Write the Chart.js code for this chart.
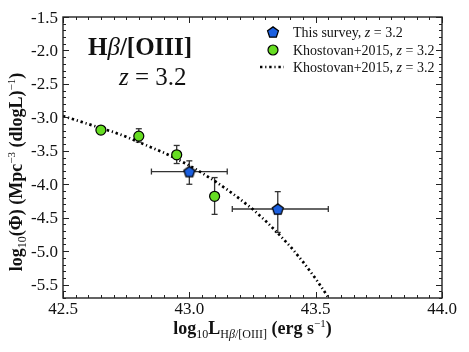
<!DOCTYPE html>
<html>
<head>
<meta charset="utf-8">
<script src="https://cdn.jsdelivr.net/npm/chart.js@4/dist/chart.umd.min.js"></script>
<style>
  html, body { margin: 0; padding: 0; background: #fff; }
  #wrap { width: 469px; height: 352px; }
</style>
</head>
<body>
<div id="wrap"><canvas id="lf"></canvas></div>
<script>
// This survey, z = 3.2
const surveyL = [43.0, 43.35];
const surveyPhi = [-3.81, -4.37];
const surveyLErrLo = [0.15, 0.18];
const surveyLErrHi = [0.15, 0.2];
const surveyPhiErrUp = [0.16, 0.26];
const surveyPhiErrDown = [0.19, 0.35];

// Khostovan+2015 points
const khostL = [42.65, 42.8, 42.95, 43.1];
const khostPhi = [-3.19, -3.28, -3.56, -4.18];
const khostPhiErrUp = [0.05, 0.11, 0.14, 0.28];
const khostPhiErrDown = [0.05, 0.09, 0.13, 0.27];

// Khostovan+2015 fit (dash-dot curve)
const fitL = [42.5, 42.55, 42.6, 42.65, 42.7, 42.75, 42.8, 42.85, 42.9, 42.95, 43.0,
  43.05, 43.1, 43.15, 43.2, 43.25, 43.3, 43.35, 43.4, 43.45, 43.5, 43.55];
const fitPhi = [-2.98, -3.04, -3.10, -3.16, -3.22, -3.29, -3.37, -3.45, -3.53, -3.62, -3.72,
  -3.83, -3.95, -4.08, -4.22, -4.37, -4.54, -4.73, -4.93, -5.16, -5.41, -5.69];

const xTicks = [42.5, 43.0, 43.5, 44.0];
const yTicks = [-1.5, -2.0, -2.5, -3.0, -3.5, -4.0, -4.5, -5.0, -5.5];

const seriesLabels = ["This survey, ", "Khostovan+2015, ", "Khostovan+2015, "];

const BLUE = "#1a5fe0";
const GREEN = "#66dd22";
const SERIF = "'Liberation Serif', 'DejaVu Serif', serif";
const DASH = [2.4, 2.8, 1.2, 2.8];

function pentagon(size, fill) {
  const c = document.createElement("canvas");
  c.width = c.height = size;
  const g = c.getContext("2d");
  const r = size / 2 - 1.3;
  g.beginPath();
  for (let i = 0; i < 5; i++) {
    const a = -Math.PI / 2 + (i * 2 * Math.PI) / 5;
    const px = size / 2 + r * Math.cos(a);
    const py = size / 2 + 0.6 + r * Math.sin(a);
    if (i === 0) g.moveTo(px, py);
    else g.lineTo(px, py);
  }
  g.closePath();
  g.fillStyle = fill;
  g.fill();
  g.lineWidth = 1.3;
  g.strokeStyle = "#000";
  g.stroke();
  return c;
}
const pentaImg = pentagon(14, BLUE);

// draws a run of [text, font, dy] pieces
function drawRich(ctx, parts, x, y, center) {
  let w = 0;
  parts.forEach((p) => {
    ctx.font = p[1];
    w += ctx.measureText(p[0]).width;
  });
  let cx = center ? x - w / 2 : x;
  parts.forEach((p) => {
    ctx.font = p[1];
    ctx.fillText(p[0], cx, y + (p[2] || 0));
    cx += ctx.measureText(p[0]).width;
  });
}

const errorBars = {
  id: "errorBars",
  beforeDatasetsDraw(chart) {
    const { ctx, scales: { x, y } } = chart;
    ctx.save();
    ctx.strokeStyle = "#333";
    ctx.lineWidth = 1.3;
    const cap = 3;
    const line = (x1, y1, x2, y2) => {
      ctx.beginPath();
      ctx.moveTo(x1, y1);
      ctx.lineTo(x2, y2);
      ctx.stroke();
    };
    const vbar = (lx, top, bot) => {
      const px = x.getPixelForValue(lx);
      const y1 = y.getPixelForValue(top), y2 = y.getPixelForValue(bot);
      line(px, y1, px, y2);
      line(px - cap, y1, px + cap, y1);
      line(px - cap, y2, px + cap, y2);
    };
    const hbar = (lo, hi, ly) => {
      const py = y.getPixelForValue(ly);
      const x1 = x.getPixelForValue(lo), x2 = x.getPixelForValue(hi);
      line(x1, py, x2, py);
      line(x1, py - cap, x1, py + cap);
      line(x2, py - cap, x2, py + cap);
    };
    khostL.forEach((l, i) => vbar(l, khostPhi[i] + khostPhiErrUp[i], khostPhi[i] - khostPhiErrDown[i]));
    surveyL.forEach((l, i) => {
      vbar(l, surveyPhi[i] + surveyPhiErrUp[i], surveyPhi[i] - surveyPhiErrDown[i]);
      hbar(l - surveyLErrLo[i], l + surveyLErrHi[i], surveyPhi[i]);
    });
    ctx.restore();
  },
};

const frameAndText = {
  id: "frameAndText",
  afterDraw(chart) {
    const { ctx, chartArea: a, scales: { x, y } } = chart;
    ctx.save();
    ctx.strokeStyle = "#222";
    ctx.lineWidth = 1.4;
    ctx.strokeRect(a.left, a.top, a.right - a.left, a.bottom - a.top);
    ctx.lineWidth = 1;
    const tick = (x1, y1, x2, y2) => {
      ctx.beginPath();
      ctx.moveTo(x1, y1);
      ctx.lineTo(x2, y2);
      ctx.stroke();
    };
    // x ticks every 0.05, major every 0.5
    for (let k = 0; k <= 30; k++) {
      const v = 42.5 + k * 0.05;
      const px = Math.round(x.getPixelForValue(v)) + 0.5;
      const len = k % 10 === 0 ? 6 : 3;
      tick(px, a.bottom, px, a.bottom - len);
      tick(px, a.top, px, a.top + len);
    }
    // y ticks every 0.1, major every 0.5
    for (let k = 0; k <= 42; k++) {
      const v = -1.5 - k * 0.1;
      const py = Math.round(y.getPixelForValue(v)) + 0.5;
      const len = k % 5 === 0 ? 6 : 3;
      tick(a.left, py, a.left + len, py);
      tick(a.right, py, a.right - len, py);
    }

    ctx.fillStyle = "#111";
    ctx.textBaseline = "alphabetic";

    // tick labels
    ctx.font = "17px " + SERIF;
    ctx.textAlign = "center";
    xTicks.forEach((v) => ctx.fillText(v.toFixed(1), x.getPixelForValue(v), a.bottom + 16));
    ctx.textAlign = "right";
    yTicks.forEach((v) => ctx.fillText(v.toFixed(1), a.left - 5, y.getPixelForValue(v) + 5.5));
    ctx.textAlign = "left";

    // x axis title
    drawRich(ctx, [
      ["log", "bold 18px " + SERIF],
      ["10", "12px " + SERIF, 4],
      ["L", "bold 18px " + SERIF],
      ["H", "12px " + SERIF, 4],
      ["β", "italic 12px " + SERIF, 4],
      ["/[OIII]", "12px " + SERIF, 4],
      [" (erg s", "bold 18px " + SERIF],
      ["−1", "11px " + SERIF, -7],
      [")", "bold 18px " + SERIF],
    ], (a.left + a.right) / 2, 334, true);

    // y axis title
    ctx.save();
    ctx.translate(22, 172);
    ctx.rotate(-Math.PI / 2);
    drawRich(ctx, [
      ["log", "bold 18px " + SERIF],
      ["10", "12px " + SERIF, 4],
      ["(Φ) (Mpc", "bold 18px " + SERIF],
      ["−3", "11px " + SERIF, -7],
      [" (dlogL)", "bold 18px " + SERIF],
      ["−1", "11px " + SERIF, -7],
      [")", "bold 18px " + SERIF],
    ], 0, 0, true);
    ctx.restore();

    // panel title
    drawRich(ctx, [
      ["H", "bold 25px " + SERIF],
      ["β", "italic 25px " + SERIF],
      ["/[OIII]", "bold 25px " + SERIF],
    ], 88, 55, false);
    drawRich(ctx, [
      ["z", "italic 25px " + SERIF],
      [" = 3.2", "25px " + SERIF],
    ], 119, 85, false);

    // legend
    ctx.drawImage(pentaImg, 273 - 7, 32 - 7);
    ctx.beginPath();
    ctx.arc(273, 50, 5, 0, Math.PI * 2);
    ctx.fillStyle = GREEN;
    ctx.fill();
    ctx.lineWidth = 1.2;
    ctx.strokeStyle = "#000";
    ctx.stroke();
    ctx.setLineDash(DASH);
    ctx.lineWidth = 2.7;
    tick(260, 67, 284, 67);
    ctx.setLineDash([]);
    ctx.fillStyle = "#111";
    [32, 50, 67].forEach((ly, i) => {
      drawRich(ctx, [
        [seriesLabels[i], "14px " + SERIF],
        ["z", "italic 14px " + SERIF],
        [" = 3.2", "14px " + SERIF],
      ], 293, ly + 4.5, false);
    });
    ctx.restore();
  },
};

new Chart(document.getElementById("lf"), {
  type: "scatter",
  data: {
    datasets: [
      {
        label: seriesLabels[2],
        data: fitL.map((l, i) => ({ x: l, y: fitPhi[i] })),
        showLine: true,
        pointRadius: 0,
        borderColor: "#000",
        borderWidth: 2.7,
        borderDash: DASH,
        borderCapStyle: "butt",
        order: 3,
      },
      {
        label: seriesLabels[1],
        data: khostL.map((l, i) => ({ x: l, y: khostPhi[i] })),
        pointStyle: "circle",
        pointRadius: 5,
        backgroundColor: GREEN,
        borderColor: "#000",
        borderWidth: 1.2,
        order: 2,
      },
      {
        label: seriesLabels[0],
        data: surveyL.map((l, i) => ({ x: l, y: surveyPhi[i] })),
        pointStyle: pentaImg,
        pointRadius: 7,
        order: 1,
      },
    ],
  },
  options: {
    responsive: true,
    maintainAspectRatio: false,
    devicePixelRatio: 1,
    animation: false,
    layout: { padding: { left: 0, top: 17, right: 27, bottom: 0 } },
    plugins: { legend: { display: false }, tooltip: { enabled: false } },
    scales: {
      x: {
        type: "linear",
        min: 42.5,
        max: 44.0,
        afterBuildTicks: (s) => { s.ticks = xTicks.map((v) => ({ value: v })); },
        afterFit: (s) => { s.height = 54; },
        grid: { display: false, drawTicks: false },
        border: { display: false },
        ticks: { display: false },
      },
      y: {
        type: "linear",
        min: -5.7,
        max: -1.5,
        afterBuildTicks: (s) => { s.ticks = yTicks.map((v) => ({ value: v })); },
        afterFit: (s) => { s.width = 63; },
        grid: { display: false, drawTicks: false },
        border: { display: false },
        ticks: { display: false },
      },
    },
  },
  plugins: [errorBars, frameAndText],
});
</script>
</body>
</html>
